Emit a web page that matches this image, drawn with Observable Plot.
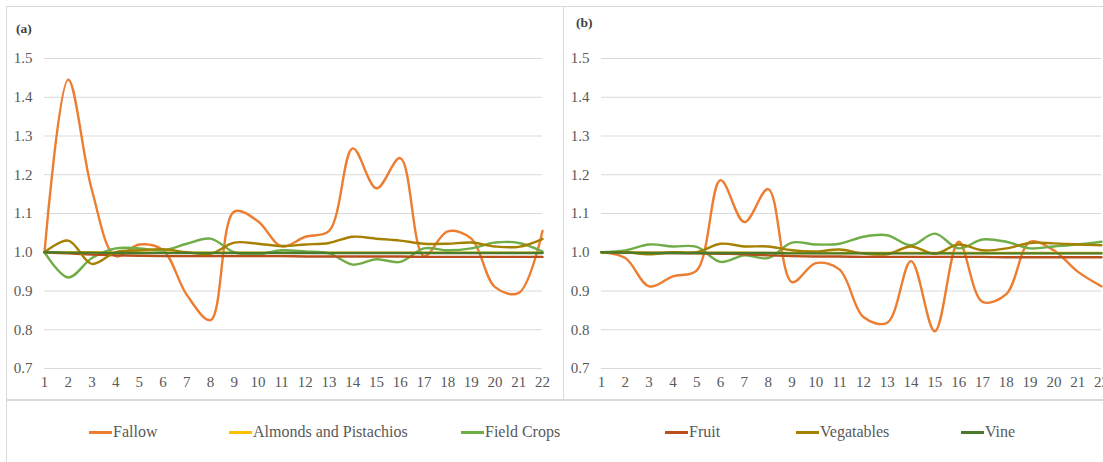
<!DOCTYPE html>
<html>
<head>
<meta charset="utf-8">
<script src="https://cdn.jsdelivr.net/npm/d3@7"></script>
<script src="https://cdn.jsdelivr.net/npm/@observablehq/plot@0.6"></script>
<style>
  html, body { margin: 0; padding: 0; background: #fff; overflow: hidden; }
  #wrap { position: relative; width: 1103px; height: 462px; font-family: 'Liberation Serif', 'Times New Roman', Times, 'DejaVu Serif', serif; color: #595959; }
  .panel { position: absolute; top: 6px; height: 394px; box-sizing: border-box; border: 1px solid #d9d9d9; overflow: hidden; }
  .tag { position: absolute; font-size: 13.5px; font-weight: bold; color: #404040; }
  #legendBox { position: absolute; left: 6px; top: 400px; width: 1097px; height: 62px; box-sizing: border-box; border-left: 1px solid #d9d9d9; border-top: 1px solid #d9d9d9; }
  .item { position: absolute; top: 22px; font-size: 16px; color: #595959; white-space: nowrap; }
  .sw { display: inline-block; width: 23px; height: 3px; vertical-align: middle; margin-right: 1px; position: relative; top: -1px; }
</style>
</head>
<body>
<div id="wrap">
  <div class="panel" id="pa" style="left:6px; width:558px;"><div class="tag" style="left:9px; top:14px;">(a)</div></div>
  <div class="panel" id="pb" style="left:563px; width:545px;"><div class="tag" style="left:12px; top:8px;">(b)</div></div>
  <div id="legendBox"></div>
</div>
<script>
// Periods on the horizontal axis
const periods = [1, 2, 3, 4, 5, 6, 7, 8, 9, 10, 11, 12, 13, 14, 15, 16, 17, 18, 19, 20, 21, 22];
const yTicks = [0.7, 0.8, 0.9, 1.0, 1.1, 1.2, 1.3, 1.4, 1.5];

const seriesNames = ["Fallow", "Almonds and Pistachios", "Field Crops", "Fruit", "Vegatables", "Vine"];
const seriesColors = ["#ED7D31", "#FFC000", "#70AD47", "#B9501C", "#A68000", "#4A7A2C"];

// Panel (a)
const fallowA     = [1.000, 1.445, 1.160, 0.990, 1.020, 1.005, 0.890, 0.825, 1.105, 1.080, 1.015, 1.040, 1.055, 1.268, 1.165, 1.243, 0.990, 1.054, 1.035, 0.910, 0.895, 1.055];
const almondsA    = [1.000, 1.000, 1.000, 0.999, 0.999, 0.999, 0.999, 0.999, 0.999, 0.999, 0.999, 0.999, 0.999, 0.999, 0.999, 0.999, 0.999, 0.999, 0.999, 0.999, 0.999, 0.999];
const fieldA      = [1.000, 0.935, 0.985, 1.010, 1.010, 1.005, 1.022, 1.035, 1.000, 0.995, 1.005, 1.002, 0.997, 0.968, 0.982, 0.975, 1.010, 1.005, 1.010, 1.025, 1.024, 1.002];
const fruitA      = [1.000, 0.997, 0.994, 0.992, 0.991, 0.990, 0.990, 0.990, 0.990, 0.990, 0.990, 0.989, 0.989, 0.989, 0.989, 0.989, 0.988, 0.988, 0.988, 0.988, 0.988, 0.988];
const vegA        = [1.000, 1.030, 0.970, 1.000, 1.005, 1.008, 1.000, 0.996, 1.025, 1.022, 1.016, 1.020, 1.024, 1.040, 1.035, 1.030, 1.022, 1.022, 1.025, 1.015, 1.014, 1.034];
const vineA       = [1.000, 0.999, 0.999, 0.998, 0.998, 0.998, 0.998, 0.998, 0.998, 0.998, 0.998, 0.998, 0.998, 0.998, 0.998, 0.998, 0.998, 0.998, 0.998, 0.998, 0.998, 0.998];

// Panel (b)
const fallowB     = [1.000, 0.985, 0.912, 0.938, 0.953, 1.186, 1.078, 1.163, 0.923, 0.972, 0.955, 0.833, 0.818, 0.977, 0.796, 1.027, 0.872, 0.892, 1.027, 1.005, 0.950, 0.912];
const almondsB    = [1.000, 1.000, 0.999, 0.999, 0.999, 0.999, 0.999, 0.998, 0.998, 0.998, 0.998, 0.998, 0.998, 0.998, 0.998, 0.998, 0.998, 0.998, 0.998, 0.998, 0.998, 0.998];
const fieldB      = [1.000, 1.005, 1.020, 1.015, 1.014, 0.975, 0.992, 0.985, 1.025, 1.020, 1.022, 1.040, 1.044, 1.018, 1.048, 1.010, 1.033, 1.027, 1.010, 1.015, 1.020, 1.027];
const fruitB      = [1.000, 0.999, 0.998, 0.998, 0.997, 0.996, 0.995, 0.992, 0.990, 0.989, 0.989, 0.988, 0.988, 0.988, 0.988, 0.988, 0.988, 0.987, 0.987, 0.987, 0.987, 0.987];
const vegB        = [1.000, 1.000, 0.995, 1.000, 1.000, 1.022, 1.015, 1.015, 1.005, 1.002, 1.007, 0.997, 0.995, 1.015, 0.996, 1.020, 1.005, 1.010, 1.024, 1.023, 1.020, 1.018];
const vineB       = [1.000, 0.999, 0.998, 0.998, 0.998, 0.998, 0.998, 0.998, 0.997, 0.997, 0.997, 0.997, 0.997, 0.997, 0.997, 0.997, 0.997, 0.997, 0.997, 0.997, 0.997, 0.997];

const serifStack = "'Liberation Serif', 'Times New Roman', Times, 'DejaVu Serif', serif";

function toRows(arrays) {
  const rows = [];
  arrays.forEach((vals, i) => {
    vals.forEach((v, j) => rows.push({period: periods[j], value: v, series: seriesNames[i]}));
  });
  return rows;
}

function panel(arrays, opts) {
  const rows = toRows(arrays);
  return Plot.plot({
    width: opts.width,
    height: 392,
    marginLeft: opts.marginLeft,
    marginRight: opts.marginRight,
    marginTop: 51,
    marginBottom: 31,
    style: {fontFamily: serifStack, fontSize: "15px", color: "#595959", background: "transparent", overflow: "visible"},
    x: {domain: [1, 22], label: null},
    y: {domain: [0.7, 1.5], label: null},
    color: {domain: seriesNames, range: seriesColors},
    marks: [
      Plot.ruleY(yTicks, {stroke: "#d9d9d9", strokeWidth: 1}),
      Plot.axisY({ticks: yTicks, tickFormat: d3.format(".1f"), tickSize: 0, tickPadding: 12, fill: "#595959"}),
      Plot.axisX({ticks: periods, tickFormat: d => d, tickSize: 0, tickPadding: 8, fill: "#595959"}),
      Plot.line(rows, {x: "period", y: "value", z: "series", stroke: "series", strokeWidth: 2.4, curve: "catmull-rom"})
    ]
  });
}

document.getElementById("pa").appendChild(
  panel([fallowA, almondsA, fieldA, fruitA, vegA, vineA], {width: 556, marginLeft: 37, marginRight: 21})
);
document.getElementById("pb").appendChild(
  panel([fallowB, almondsB, fieldB, fruitB, vegB, vineB], {width: 540, marginLeft: 37, marginRight: 3})
);

// Legend row
const legendX = [88, 228, 460, 664, 795, 960];
const legend = document.getElementById("legendBox");
seriesNames.forEach((name, i) => {
  const el = document.createElement("div");
  el.className = "item";
  el.style.left = (legendX[i] - 6) + "px";
  el.innerHTML = `<span class="sw" style="background:${seriesColors[i]}"></span>${name}`;
  legend.appendChild(el);
});
</script>
</body>
</html>
